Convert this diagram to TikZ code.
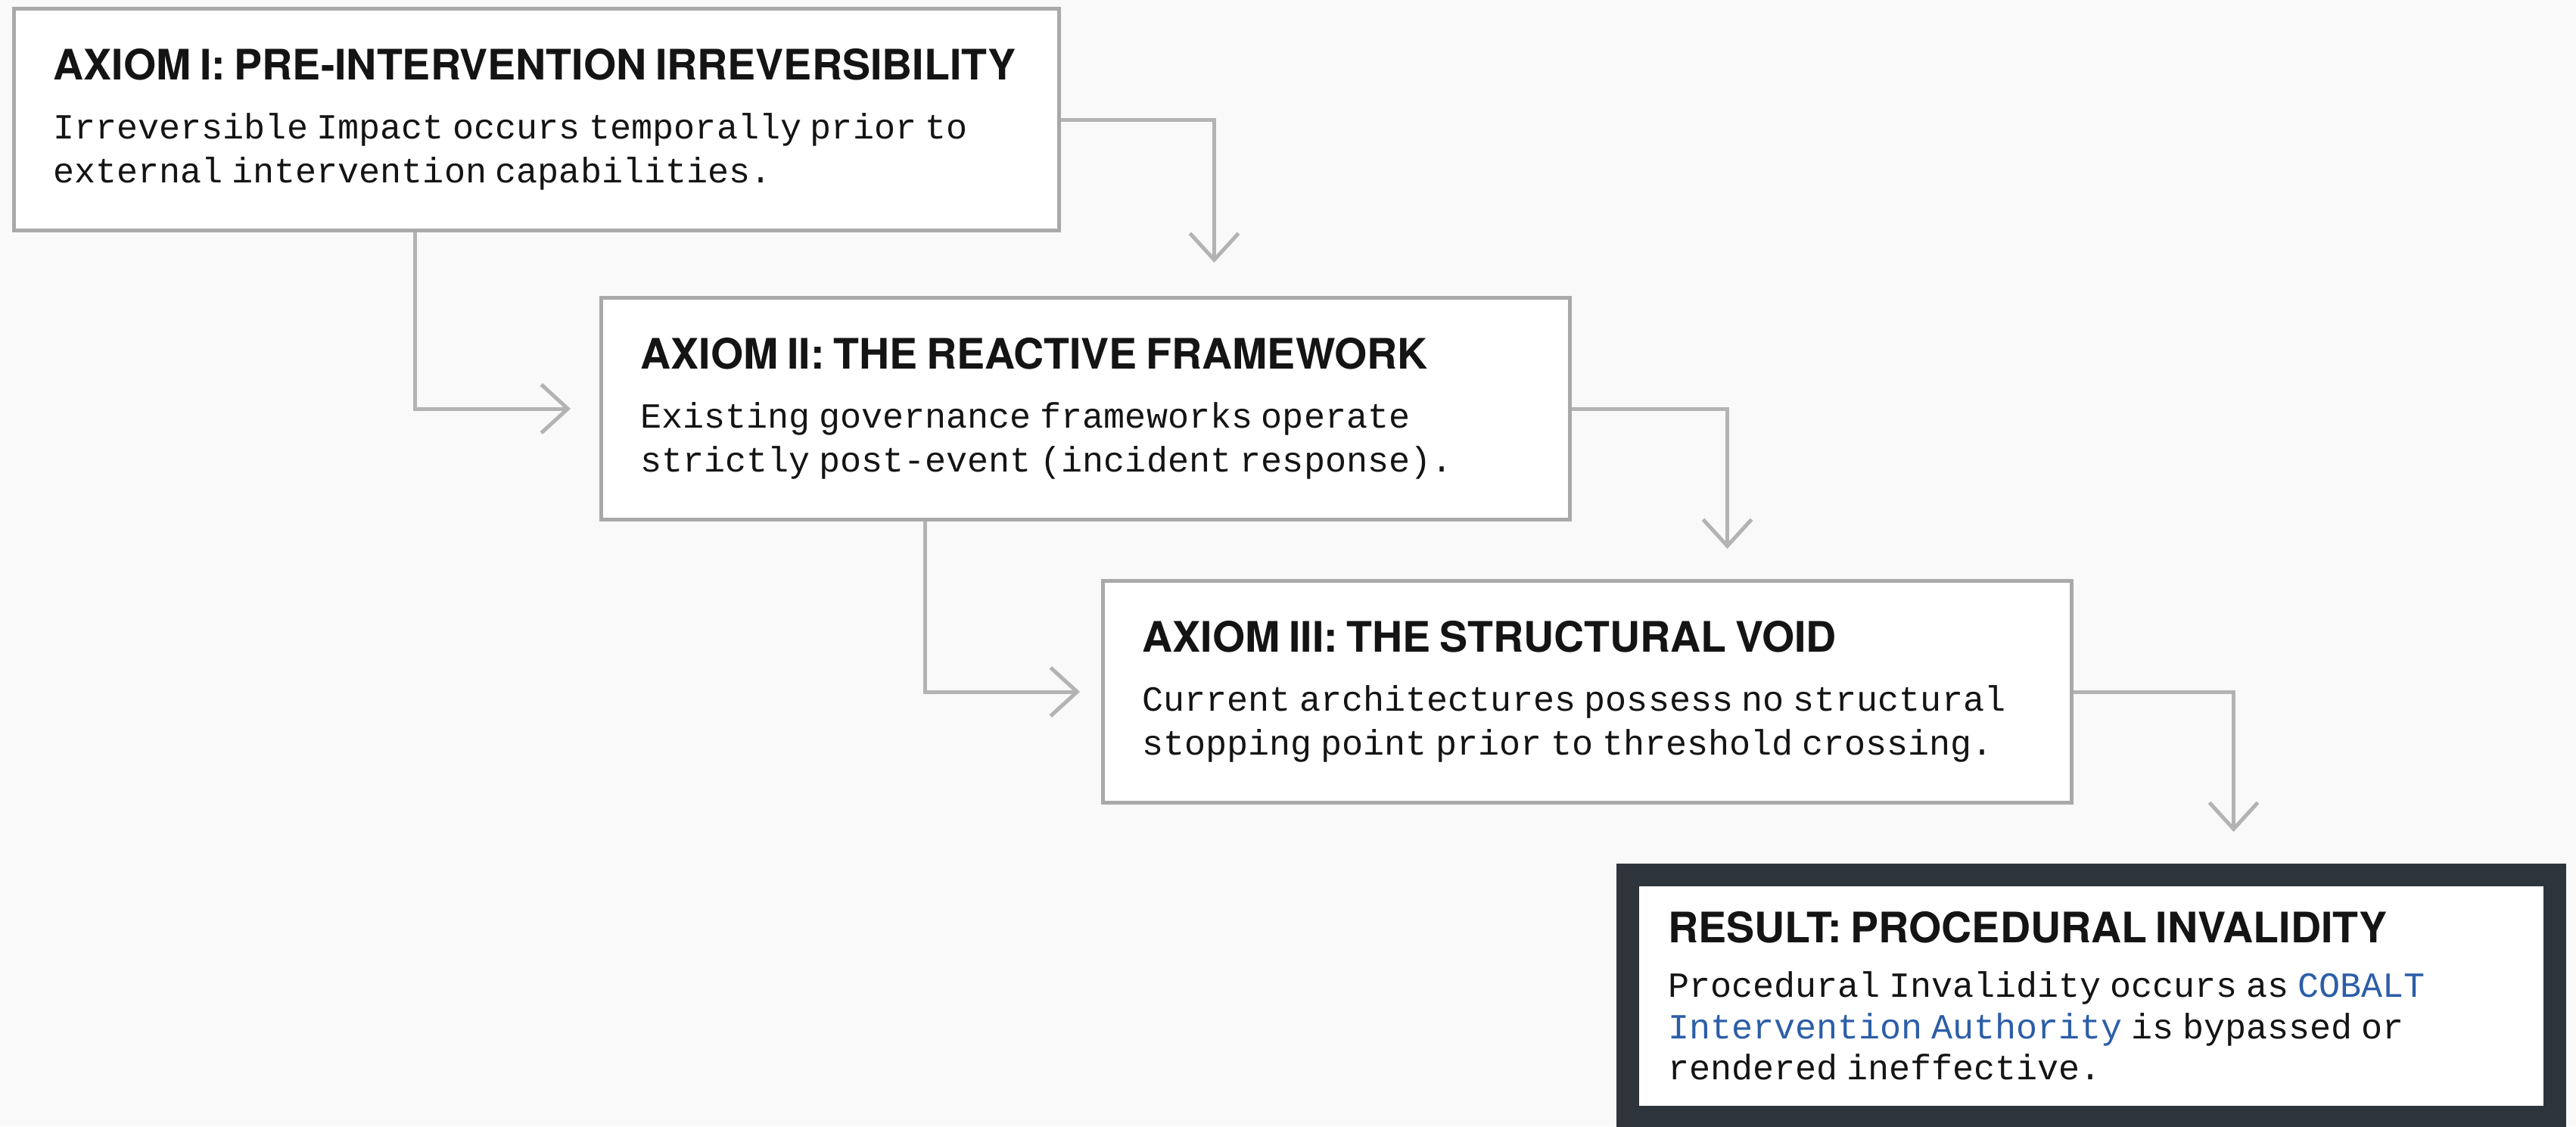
\documentclass[tikz,border=0pt]{standalone}
\usepackage{fontspec}
\usepackage{xcolor}
\usetikzlibrary{arrows.meta, positioning, calc}

\newfontfamily\headsans{TeX Gyre Heros}
\newfontfamily\bodymono{Liberation Mono}
\newcommand\axhead{\headsans\bfseries\fontsize{15.8}{19}\selectfont}
\newcommand\axbody{\bodymono\mdseries\fontsize{13.3}{16.5}\selectfont}

\definecolor{boxgrey}{HTML}{A9A9A9}
\definecolor{flowgrey}{HTML}{B3B3B3}
\definecolor{frameslate}{HTML}{2E343C}
\definecolor{cobalt}{HTML}{2C5EA8}
\definecolor{paper}{HTML}{F9F9F9}

\begin{document}
\begin{tikzpicture}[
    axiom/.style={draw=boxgrey, line width=0.05cm, fill=white, anchor=north west,
        align=left, inner xsep=0.52cm, minimum height=2.93cm, text=black!92},
    result/.style={draw=frameslate, line width=0.3cm, fill=white, anchor=north west,
        align=left, inner xsep=0.53cm, text width=11.19cm, minimum height=3.2cm, text=black!92},
    flow/.style={draw=flowgrey, line width=0.05cm, -{Straight Barb[length=3.5mm,width=6.4mm]}}
]
% Page and background
\useasboundingbox (0,0) rectangle (34.04,-14.88);
\fill[paper] (0,0) rectangle (34.04,-14.88);

% Axiom boxes
\node[axiom, text width=12.77cm] (ax1) at (0.16,-0.09) {\axhead AXIOM I: PRE-INTERVENTION IRREVERSIBILITY\par\vspace{5.7pt}
    \axbody Irreversible Impact occurs temporally prior to\\ external intervention capabilities.\par};
\node[axiom, text width=11.76cm] (ax2) at (7.92,-3.91) {\axhead AXIOM II: THE REACTIVE FRAMEWORK\par\vspace{5.7pt}
    \axbody Existing governance frameworks operate\\ strictly post-event (incident response).\par};
\node[axiom, text width=11.76cm] (ax3) at (14.55,-7.65) {\axhead AXIOM III: THE STRUCTURAL VOID\par\vspace{5.7pt}
    \axbody Current architectures possess no structural\\ stopping point prior to threshold crossing.\par};

% Result box
\node[result] (res) at (21.36,-11.41) {\axhead RESULT: PROCEDURAL INVALIDITY\par\vspace{4.8pt}
    \axbody\baselineskip=15.6pt Procedural Invalidity occurs as {\color{cobalt}COBALT}\\ {\color{cobalt}Intervention Authority} is bypassed or\\ rendered ineffective.\par};

% Connectors from the right side down to the next box
\foreach \from/\to/\dx/\gap in {ax1/ax2/1.7/0.44, ax2/ax3/1.85/0.40, ax3/res/1.88/0.42}
    \draw[flow, shorten >=\gap cm] (\from.east) -| ([xshift=\dx cm]\to.north);

% Connectors from the bottom into the next box
\foreach \from/\to/\dx/\gap in {ax1/ax2/-1.61/0.38, ax2/ax3/-2.125/0.28}
    \draw[flow, shorten >=\gap cm] ([xshift=\dx cm]\from.south) |- (\to.west);
\end{tikzpicture}
\end{document}
